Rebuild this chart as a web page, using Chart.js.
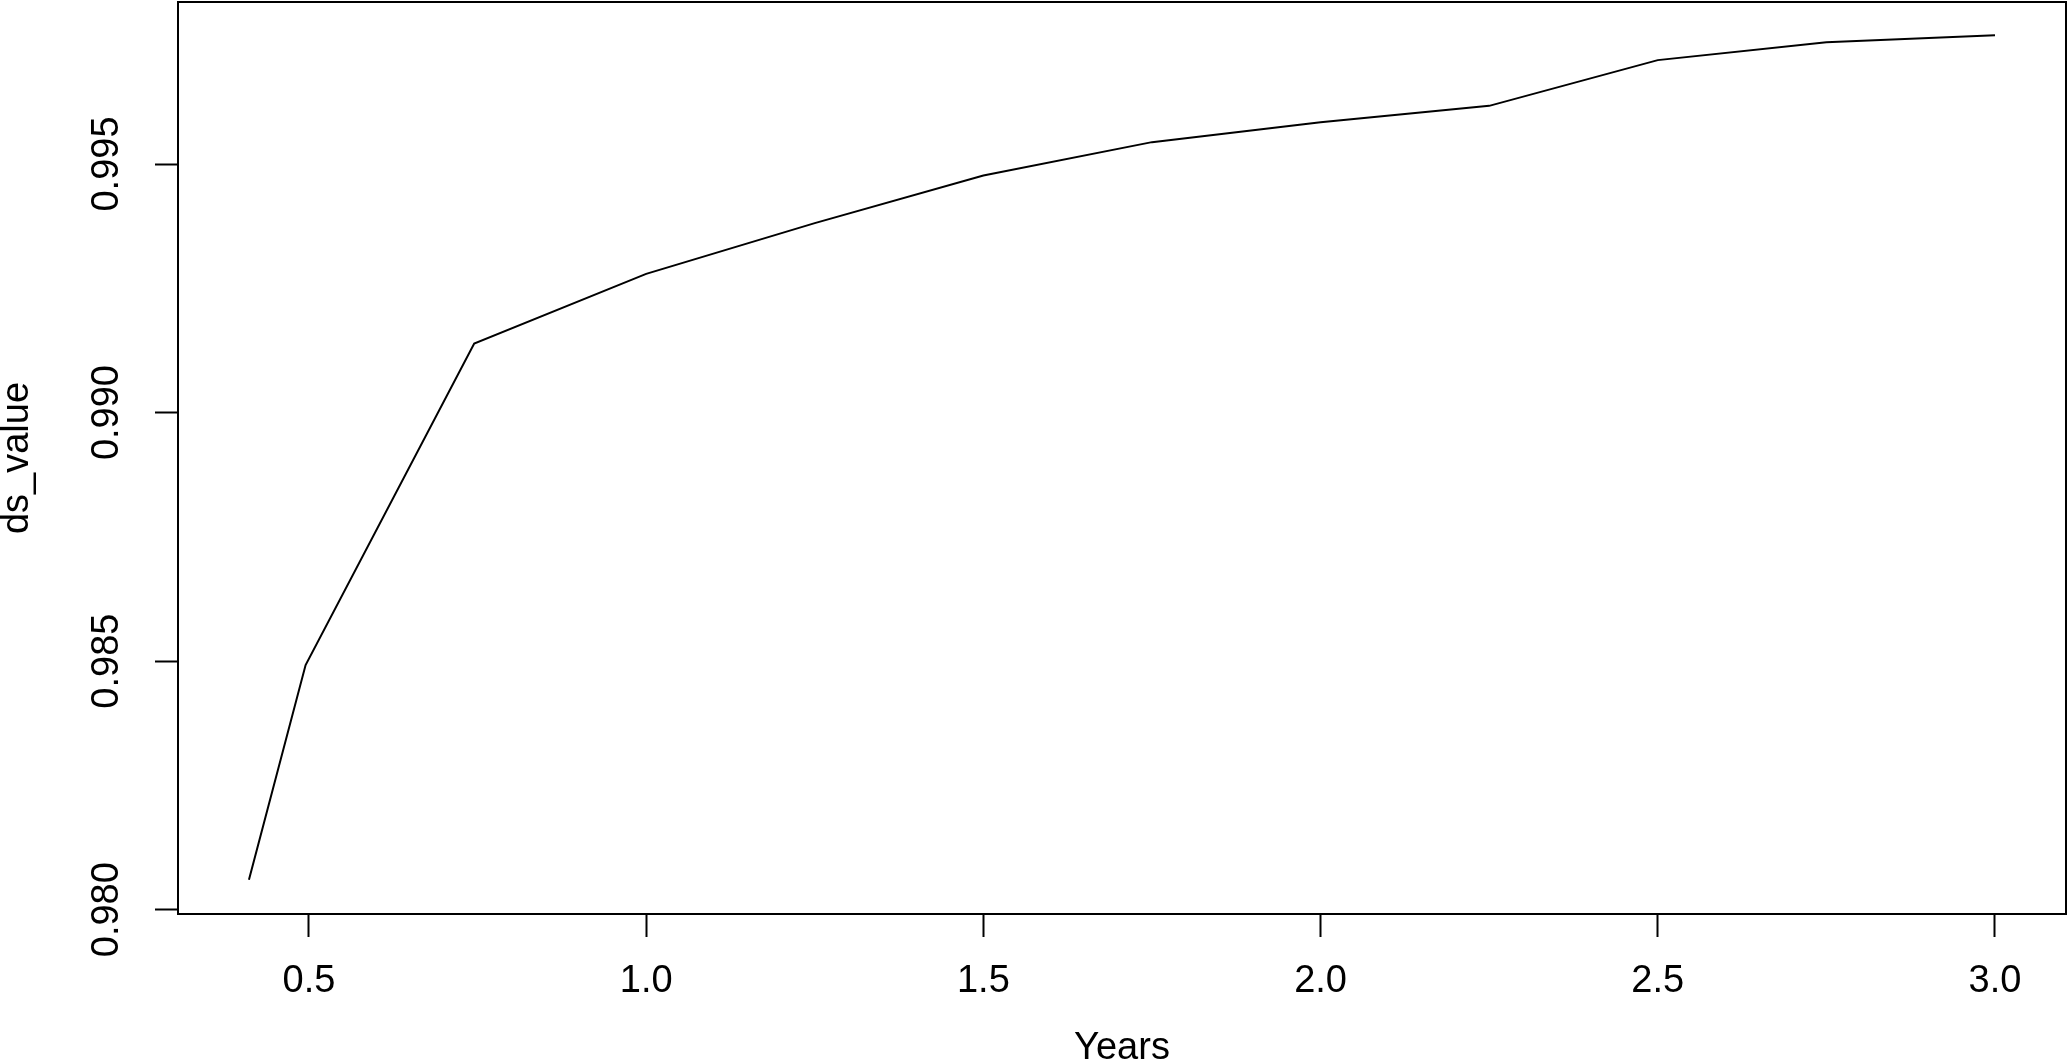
<!DOCTYPE html>
<html>
<head>
<meta charset="utf-8">
<script src="https://cdn.jsdelivr.net/npm/chart.js@4"></script>
<style>
  html, body { margin: 0; padding: 0; background: #fff; }
  canvas { display: block; }
</style>
</head>
<body>
<canvas id="chart" width="2067" height="1062"></canvas>
<script>
// values
const years = [0.411, 0.495, 0.745, 1.0, 1.25, 1.5, 1.75, 2.0, 2.25, 2.5, 2.75, 3.0];
const dsValue = [0.98060, 0.98492, 0.99139, 0.99279, 0.99381, 0.99477, 0.99544, 0.99584, 0.99617, 0.99709, 0.99745, 0.99759];
const xTicks = [0.5, 1.0, 1.5, 2.0, 2.5, 3.0];
const yTicks = [0.980, 0.985, 0.990, 0.995];

const FONT = 'Liberation Sans, Arial, sans-serif';

// box around the plot region, like R's box()
const boxPlugin = {
  id: 'box',
  afterDraw(chart) {
    const { ctx, chartArea: a } = chart;
    ctx.save();
    ctx.strokeStyle = '#000';
    ctx.lineWidth = 2;
    ctx.strokeRect(a.left, a.top, a.right - a.left, a.bottom - a.top);
    ctx.restore();
  }
};

new Chart(document.getElementById('chart'), {
  type: 'line',
  data: {
    datasets: [{
      data: years.map((x, i) => ({ x, y: dsValue[i] })),
      borderColor: '#000',
      borderWidth: 2,
      pointRadius: 0,
      tension: 0,
      fill: false
    }]
  },
  options: {
    responsive: false,
    animation: false,
    events: [],
    layout: { padding: { top: 2, right: 1, left: 0, bottom: 0 } },
    plugins: { legend: { display: false }, tooltip: { enabled: false } },
    scales: {
      x: {
        type: 'linear',
        min: 0.3058,
        max: 3.1053,
        afterBuildTicks: s => { s.ticks = xTicks.map(v => ({ value: v })); },
        afterFit: s => { s.height = 148; s.paddingLeft = 0; s.paddingRight = 0; },
        grid: { drawOnChartArea: false, drawTicks: true, tickLength: 23, tickColor: '#000', tickWidth: 2 },
        border: { display: false },
        ticks: {
          color: '#000', padding: 22, maxRotation: 0, minRotation: 0, autoSkip: false,
          font: { family: FONT, size: 38 },
          callback: v => v.toFixed(1)
        },
        title: {
          display: true, text: 'Years', color: '#000',
          font: { family: FONT, size: 38 },
          padding: { top: 0, bottom: -9 }
        }
      },
      y: {
        type: 'linear',
        min: 0.979913,
        max: 0.998259,
        afterBuildTicks: s => { s.ticks = yTicks.map(v => ({ value: v })); },
        afterFit: s => { s.width = 178; s.paddingTop = 0; s.paddingBottom = 0; },
        grid: { drawOnChartArea: false, drawTicks: true, tickLength: 23, tickColor: '#000', tickWidth: 2 },
        border: { display: false },
        ticks: {
          color: '#000', padding: 0, minRotation: 90, maxRotation: 90, crossAlign: 'center', autoSkip: false,
          font: { family: FONT, size: 38 },
          callback: v => v.toFixed(3)
        },
        title: {
          display: true, text: 'ds_value', color: '#000',
          font: { family: FONT, size: 38 },
          padding: { top: -5, bottom: 0 }
        }
      }
    }
  },
  plugins: [boxPlugin]
});
</script>
</body>
</html>
